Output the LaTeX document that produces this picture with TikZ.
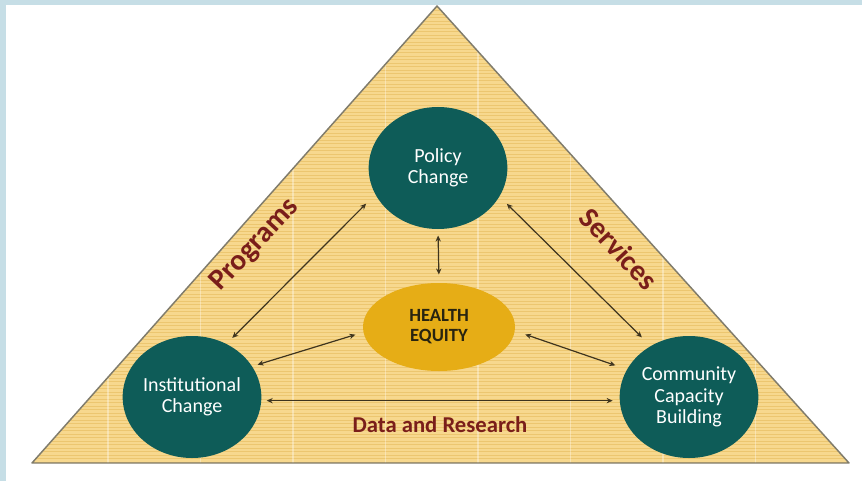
\documentclass[tikz,border=0pt]{standalone}
\usepackage{fontspec}
\setmainfont{Carlito}
\usetikzlibrary{shapes.geometric,arrows.meta}

\definecolor{frameblue}{RGB}{198,222,230}
\definecolor{sandfill}{RGB}{247,216,142}
\definecolor{sandline}{RGB}{236,198,112}
\definecolor{edgegrey}{RGB}{128,124,108}
\definecolor{tealnode}{RGB}{14,92,88}
\definecolor{goldnode}{RGB}{230,173,22}
\definecolor{equitytext}{RGB}{40,36,16}
\definecolor{labelred}{RGB}{122,30,26}
\definecolor{arrowbrown}{RGB}{62,52,30}

\tikzset{every picture/.style={line width=0.75pt},
  tealcircle/.style={ellipse, fill=tealnode, minimum width=104pt, minimum height=91.5pt, inner sep=0pt,
    text=white, align=center, font=\fontsize{15}{16}\selectfont},
  goldoval/.style={ellipse, fill=goldnode, minimum width=114pt, minimum height=66pt, inner sep=0pt,
    text=equitytext, align=center, font=\bfseries\fontsize{14}{15}\selectfont},
  link/.style={arrowbrown, line width=0.9pt, {Stealth[length=4.5pt,width=4pt]}-{Stealth[length=4.5pt,width=4pt]}},
  sidelabel/.style={text=labelred, inner sep=0pt, font=\bfseries\fontsize{22}{24}\selectfont}}

\begin{document}
\begin{tikzpicture}[x=0.75pt,y=0.75pt,yscale=-1,xscale=1]
\useasboundingbox (0,0) rectangle (862,481);

%Shape: Frame
\fill [frameblue] (0,0) rectangle (862,481);
\fill [white] (6,5) rectangle (862,481);

%Shape: Triangle
\fill [sandfill] (437,6) -- (849,463) -- (32,463) -- cycle;
\begin{scope}
\clip (437,6) -- (849,463) -- (32,463) -- cycle;
\draw [sandline, line width=0.3pt, xstep=2000, ystep=3.5] (0,0) grid (862,481);
\draw [white, opacity=0.35, line width=0.9pt, xshift=11.6pt, xstep=92.5, ystep=2000] (-20,1) grid (862,481);
\end{scope}
\draw [edgegrey, line width=1.1pt, line join=round] (437,6) -- (849,463) -- (32,463) -- cycle;

%Shape: Circles
\node [tealcircle] (policy) at (438,168) {Policy\\Change};
\node [tealcircle] (inst) at (192,397) {Institutional\\Change};
\node [tealcircle] (comm) at (689,397) {Community\\Capacity\\Building};
\node [goldoval] (equity) at (439,327) {HEALTH\\EQUITY};

%Straight Lines
\draw [link, shorten <=9.5pt, shorten >=6pt] (policy.203) -- (inst.57);
\draw [link, shorten <=7.5pt, shorten >=9pt] (policy.335) -- (comm.127);
\draw [link, shorten <=4.5pt, shorten >=6pt] (policy.south) -- (equity.north);
\draw [link, shorten <=6pt, shorten >=4pt] (equity.184) -- (inst.27);
\draw [link, shorten <=8pt, shorten >=9pt] (equity.-3.5) -- (comm.156);
\draw [link, shorten <=3.75pt, shorten >=5pt] (inst.357) -- (comm.183);

% Text Node
\node [sidelabel, rotate=47] (programs) at (255,245) {Programs};
% Text Node
\node [sidelabel, rotate=-47] (services) at (619,249) {Services};
% Text Node
\node [text=labelred, font=\bfseries\fontsize{17}{20}\selectfont] (data) at (440,425) {Data and Research};

\end{tikzpicture}
\end{document}
